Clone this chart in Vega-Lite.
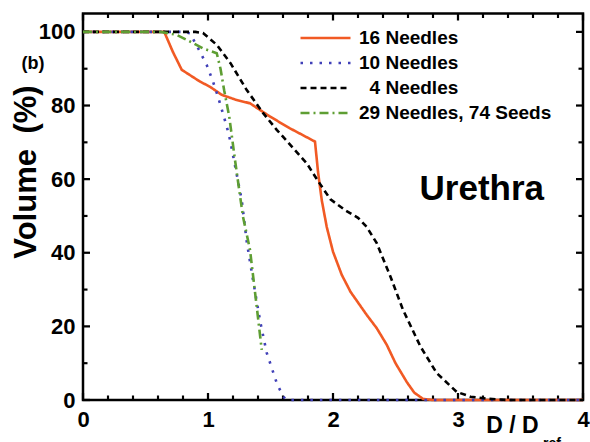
{
  "$schema": "https://vega.github.io/schema/vega-lite/v6.json",
  "width": 500,
  "height": 386.5,
  "autosize": {"type": "none"},
  "padding": {"left": 83, "top": 13.5, "right": 7, "bottom": 42},
  "background": "white",
  "config": {
    "font": "Liberation Sans",
    "view": {"stroke": "black", "strokeWidth": 2.5},
    "axis": {
      "domain": false,
      "grid": false,
      "ticks": false,
      "labelColor": "black",
      "labelFont": "Liberation Sans",
      "labelFontSize": 22,
      "labelFontWeight": "bold",
      "labelFlush": false,
      "labelOverlap": false,
      "titleColor": "black",
      "titleFont": "Liberation Sans",
      "titleFontWeight": "bold"
    }
  },
  "datasets": {
    "xmajor": [{"t": 0}, {"t": 1}, {"t": 2}, {"t": 3}, {"t": 4}],
    "xminor": [{"t": 0.2}, {"t": 0.4}, {"t": 0.6}, {"t": 0.8}, {"t": 1.2}, {"t": 1.4}, {"t": 1.6}, {"t": 1.8}, {"t": 2.2}, {"t": 2.4}, {"t": 2.6}, {"t": 2.8}, {"t": 3.2}, {"t": 3.4}, {"t": 3.6}, {"t": 3.8}],
    "ymajor": [{"t": 0}, {"t": 20}, {"t": 40}, {"t": 60}, {"t": 80}, {"t": 100}],
    "yminor": [{"t": 10}, {"t": 30}, {"t": 50}, {"t": 70}, {"t": 90}],
    "curves": [
      {"series": "16 Needles", "d": 0, "v": 100},
      {"series": "16 Needles", "d": 0.65, "v": 100},
      {"series": "16 Needles", "d": 0.72, "v": 94.5},
      {"series": "16 Needles", "d": 0.79, "v": 89.7},
      {"series": "16 Needles", "d": 0.936, "v": 86.5},
      {"series": "16 Needles", "d": 1.016, "v": 85.1},
      {"series": "16 Needles", "d": 1.11, "v": 82.9},
      {"series": "16 Needles", "d": 1.22, "v": 81.6},
      {"series": "16 Needles", "d": 1.336, "v": 80.6},
      {"series": "16 Needles", "d": 1.496, "v": 77},
      {"series": "16 Needles", "d": 1.656, "v": 73.8},
      {"series": "16 Needles", "d": 1.856, "v": 70.2},
      {"series": "16 Needles", "d": 1.88, "v": 62},
      {"series": "16 Needles", "d": 1.91, "v": 54.3},
      {"series": "16 Needles", "d": 1.95, "v": 47},
      {"series": "16 Needles", "d": 2.0, "v": 40.3},
      {"series": "16 Needles", "d": 2.07, "v": 34},
      {"series": "16 Needles", "d": 2.14, "v": 29.4},
      {"series": "16 Needles", "d": 2.27, "v": 23.1},
      {"series": "16 Needles", "d": 2.35, "v": 19.5},
      {"series": "16 Needles", "d": 2.43, "v": 15},
      {"series": "16 Needles", "d": 2.5, "v": 10},
      {"series": "16 Needles", "d": 2.59, "v": 4.9},
      {"series": "16 Needles", "d": 2.65, "v": 2},
      {"series": "16 Needles", "d": 2.72, "v": 0.3},
      {"series": "16 Needles", "d": 2.8, "v": 0},
      {"series": "16 Needles", "d": 4.0, "v": 0},
      {"series": "10 Needles", "d": 0, "v": 100},
      {"series": "10 Needles", "d": 0.8, "v": 100},
      {"series": "10 Needles", "d": 0.856, "v": 99.6},
      {"series": "10 Needles", "d": 0.936, "v": 94.6},
      {"series": "10 Needles", "d": 0.99, "v": 91},
      {"series": "10 Needles", "d": 1.04, "v": 86.5},
      {"series": "10 Needles", "d": 1.08, "v": 82.4},
      {"series": "10 Needles", "d": 1.15, "v": 74.3},
      {"series": "10 Needles", "d": 1.176, "v": 70.7},
      {"series": "10 Needles", "d": 1.22, "v": 63},
      {"series": "10 Needles", "d": 1.27, "v": 54.3},
      {"series": "10 Needles", "d": 1.31, "v": 43},
      {"series": "10 Needles", "d": 1.36, "v": 32.6},
      {"series": "10 Needles", "d": 1.42, "v": 20.9},
      {"series": "10 Needles", "d": 1.47, "v": 12.8},
      {"series": "10 Needles", "d": 1.55, "v": 4.6},
      {"series": "10 Needles", "d": 1.6, "v": 1},
      {"series": "10 Needles", "d": 1.63, "v": 0},
      {"series": "10 Needles", "d": 4.0, "v": 0},
      {"series": "4 Needles", "d": 0, "v": 100},
      {"series": "4 Needles", "d": 0.9, "v": 100},
      {"series": "4 Needles", "d": 0.96, "v": 99.7},
      {"series": "4 Needles", "d": 1.07, "v": 96.5},
      {"series": "4 Needles", "d": 1.18, "v": 91.5},
      {"series": "4 Needles", "d": 1.31, "v": 84.2},
      {"series": "4 Needles", "d": 1.44, "v": 78},
      {"series": "4 Needles", "d": 1.55, "v": 73.4},
      {"series": "4 Needles", "d": 1.79, "v": 64.3},
      {"series": "4 Needles", "d": 1.88, "v": 59.5},
      {"series": "4 Needles", "d": 1.98, "v": 54.5},
      {"series": "4 Needles", "d": 2.1, "v": 51.5},
      {"series": "4 Needles", "d": 2.2, "v": 49.5},
      {"series": "4 Needles", "d": 2.27, "v": 47},
      {"series": "4 Needles", "d": 2.35, "v": 42.6},
      {"series": "4 Needles", "d": 2.46, "v": 33.5},
      {"series": "4 Needles", "d": 2.56, "v": 24.5},
      {"series": "4 Needles", "d": 2.7, "v": 14.5},
      {"series": "4 Needles", "d": 2.83, "v": 7.3},
      {"series": "4 Needles", "d": 2.99, "v": 2.2},
      {"series": "4 Needles", "d": 3.1, "v": 0.9},
      {"series": "4 Needles", "d": 3.25, "v": 0.3},
      {"series": "4 Needles", "d": 3.4, "v": 0},
      {"series": "4 Needles", "d": 4.0, "v": 0},
      {"series": "29 Needles, 74 Seeds", "d": 0, "v": 100},
      {"series": "29 Needles, 74 Seeds", "d": 0.62, "v": 100},
      {"series": "29 Needles, 74 Seeds", "d": 0.75, "v": 99.2},
      {"series": "29 Needles, 74 Seeds", "d": 0.856, "v": 97.4},
      {"series": "29 Needles, 74 Seeds", "d": 0.96, "v": 95.5},
      {"series": "29 Needles, 74 Seeds", "d": 1.07, "v": 94.2},
      {"series": "29 Needles, 74 Seeds", "d": 1.1, "v": 90},
      {"series": "29 Needles, 74 Seeds", "d": 1.13, "v": 84},
      {"series": "29 Needles, 74 Seeds", "d": 1.17, "v": 77},
      {"series": "29 Needles, 74 Seeds", "d": 1.216, "v": 65.2},
      {"series": "29 Needles, 74 Seeds", "d": 1.25, "v": 57},
      {"series": "29 Needles, 74 Seeds", "d": 1.28, "v": 49.8},
      {"series": "29 Needles, 74 Seeds", "d": 1.336, "v": 40.8},
      {"series": "29 Needles, 74 Seeds", "d": 1.39, "v": 25.3},
      {"series": "29 Needles, 74 Seeds", "d": 1.43, "v": 13.6}
    ]
  },
  "layer": [
    {
      "data": {"name": "xmajor"},
      "mark": {"type": "point", "shape": "M-0.16,0H0.16V-1H-0.16Z", "size": 196, "filled": true, "color": "black", "opacity": 1, "strokeWidth": 0},
      "encoding": {
        "x": {"field": "t", "type": "quantitative", "scale": {"domain": [0, 4], "nice": false, "zero": false}, "axis": null},
        "y": {"datum": 0, "type": "quantitative", "scale": {"domain": [0, 105], "nice": false, "zero": false}, "axis": null}
      }
    },
    {
      "data": {"name": "xmajor"},
      "mark": {"type": "point", "shape": "M-0.16,0H0.16V1H-0.16Z", "size": 196, "filled": true, "color": "black", "opacity": 1, "strokeWidth": 0},
      "encoding": {
        "x": {"field": "t", "type": "quantitative", "scale": {"domain": [0, 4], "nice": false, "zero": false}, "axis": null},
        "y": {"datum": 105, "type": "quantitative", "scale": {"domain": [0, 105], "nice": false, "zero": false}, "axis": null}
      }
    },
    {
      "data": {"name": "xminor"},
      "mark": {"type": "point", "shape": "M-0.24,0H0.24V-1H-0.24Z", "size": 81, "filled": true, "color": "black", "opacity": 1, "strokeWidth": 0},
      "encoding": {
        "x": {"field": "t", "type": "quantitative", "scale": {"domain": [0, 4], "nice": false, "zero": false}, "axis": null},
        "y": {"datum": 0, "type": "quantitative", "scale": {"domain": [0, 105], "nice": false, "zero": false}, "axis": null}
      }
    },
    {
      "data": {"name": "xminor"},
      "mark": {"type": "point", "shape": "M-0.24,0H0.24V1H-0.24Z", "size": 81, "filled": true, "color": "black", "opacity": 1, "strokeWidth": 0},
      "encoding": {
        "x": {"field": "t", "type": "quantitative", "scale": {"domain": [0, 4], "nice": false, "zero": false}, "axis": null},
        "y": {"datum": 105, "type": "quantitative", "scale": {"domain": [0, 105], "nice": false, "zero": false}, "axis": null}
      }
    },
    {
      "data": {"name": "ymajor"},
      "mark": {"type": "point", "shape": "M0,-0.16V0.16H1V-0.16Z", "size": 196, "filled": true, "color": "black", "opacity": 1, "strokeWidth": 0},
      "encoding": {
        "y": {"field": "t", "type": "quantitative", "scale": {"domain": [0, 105], "nice": false, "zero": false}, "axis": null},
        "x": {"datum": 0, "type": "quantitative", "scale": {"domain": [0, 4], "nice": false, "zero": false}, "axis": null}
      }
    },
    {
      "data": {"name": "ymajor"},
      "mark": {"type": "point", "shape": "M0,-0.16V0.16H-1V-0.16Z", "size": 196, "filled": true, "color": "black", "opacity": 1, "strokeWidth": 0},
      "encoding": {
        "y": {"field": "t", "type": "quantitative", "scale": {"domain": [0, 105], "nice": false, "zero": false}, "axis": null},
        "x": {"datum": 4, "type": "quantitative", "scale": {"domain": [0, 4], "nice": false, "zero": false}, "axis": null}
      }
    },
    {
      "data": {"name": "yminor"},
      "mark": {"type": "point", "shape": "M0,-0.24V0.24H1V-0.24Z", "size": 81, "filled": true, "color": "black", "opacity": 1, "strokeWidth": 0},
      "encoding": {
        "y": {"field": "t", "type": "quantitative", "scale": {"domain": [0, 105], "nice": false, "zero": false}, "axis": null},
        "x": {"datum": 0, "type": "quantitative", "scale": {"domain": [0, 4], "nice": false, "zero": false}, "axis": null}
      }
    },
    {
      "data": {"name": "yminor"},
      "mark": {"type": "point", "shape": "M0,-0.24V0.24H-1V-0.24Z", "size": 81, "filled": true, "color": "black", "opacity": 1, "strokeWidth": 0},
      "encoding": {
        "y": {"field": "t", "type": "quantitative", "scale": {"domain": [0, 105], "nice": false, "zero": false}, "axis": null},
        "x": {"datum": 4, "type": "quantitative", "scale": {"domain": [0, 4], "nice": false, "zero": false}, "axis": null}
      }
    },
    {
      "data": {"name": "curves"},
      "mark": {"type": "line", "strokeWidth": 2.6},
      "encoding": {
        "x": {
          "field": "d", "type": "quantitative",
          "scale": {"domain": [0, 4], "nice": false, "zero": false},
          "axis": {
            "orient": "bottom",
            "values": [0, 1, 2, 3, 4],
            "format": "d",
            "ticks": false,
            "labelFlush": false,
            "labelPadding": 9,
            "title": "D / D",
            "titleFontSize": 23,
            "titleX": 429,
            "titleY": 32,
            "titleAlign": "center",
            "titleBaseline": "alphabetic"
          }
        },
        "y": {
          "field": "v", "type": "quantitative",
          "scale": {"domain": [0, 105], "nice": false, "zero": false},
          "axis": {
            "orient": "left",
            "values": [0, 20, 40, 60, 80, 100],
            "format": "d",
            "ticks": false,
            "labelFlush": false,
            "labelPadding": 8,
            "title": "Volume\u2002(%)",
            "titleFontSize": 31,
            "titleAngle": 270,
            "titleX": -57,
            "titleY": 158,
            "titleAlign": "center",
            "titleBaseline": "middle"
          }
        },
        "color": {
          "field": "series", "type": "nominal",
          "scale": {
            "domain": ["16 Needles", "10 Needles", "4 Needles", "29 Needles, 74 Seeds"],
            "range": ["#f15a24", "#4040b8", "#000000", "#5e9e33"]
          },
          "legend": {
            "title": null,
            "orient": "none",
            "legendX": 216,
            "legendY": 12,
            "padding": 0,
            "symbolType": "stroke",
            "symbolSize": 2500,
            "symbolStrokeWidth": 2.6,
            "clipHeight": 25,
            "rowPadding": 0,
            "labelOffset": 7,
            "labelFont": "Liberation Sans",
            "labelFontSize": 19,
            "labelFontWeight": "bold",
            "labelColor": "black",
            "labelLimit": 400,
            "labelExpr": "datum.label === '4 Needles' ? '\\u200b\\u2007' + datum.label : datum.label"
          }
        },
        "strokeDash": {
          "field": "series", "type": "nominal",
          "scale": {
            "domain": ["16 Needles", "10 Needles", "4 Needles", "29 Needles, 74 Seeds"],
            "range": [[1, 0], [2.5, 7], [6, 4], [9, 4, 2, 4]]
          },
          "legend": {
            "title": null,
            "orient": "none",
            "legendX": 216,
            "legendY": 12,
            "padding": 0,
            "symbolType": "stroke",
            "symbolSize": 2500,
            "symbolStrokeWidth": 2.6,
            "clipHeight": 25,
            "rowPadding": 0,
            "labelOffset": 7,
            "labelFont": "Liberation Sans",
            "labelFontSize": 19,
            "labelFontWeight": "bold",
            "labelColor": "black",
            "labelLimit": 400,
            "labelExpr": "datum.label === '4 Needles' ? '\\u200b\\u2007' + datum.label : datum.label"
          }
        }
      }
    },
    {
      "data": {"values": [{}]},
      "mark": {"type": "text", "text": "Urethra", "fontSize": 35, "fontWeight": "bold", "font": "Liberation Sans", "align": "center", "baseline": "alphabetic", "color": "black"},
      "encoding": {
        "x": {"datum": 3.19, "type": "quantitative", "scale": {"domain": [0, 4], "nice": false, "zero": false}, "axis": null},
        "y": {"datum": 54.3, "type": "quantitative", "scale": {"domain": [0, 105], "nice": false, "zero": false}, "axis": null}
      }
    },
    {
      "data": {"values": [{}]},
      "mark": {"type": "text", "text": "(b)", "fontSize": 18, "fontWeight": "bold", "font": "Liberation Sans", "align": "center", "baseline": "middle", "color": "black"},
      "encoding": {
        "x": {"datum": -0.4, "type": "quantitative", "scale": {"domain": [0, 4], "nice": false, "zero": false}, "axis": null},
        "y": {"datum": 91.2, "type": "quantitative", "scale": {"domain": [0, 105], "nice": false, "zero": false}, "axis": null}
      }
    },
    {
      "data": {"values": [{}]},
      "mark": {"type": "text", "text": "ref", "fontSize": 14, "fontWeight": "bold", "font": "Liberation Sans", "align": "left", "baseline": "top", "color": "black"},
      "encoding": {
        "x": {"datum": 3.68, "type": "quantitative", "scale": {"domain": [0, 4], "nice": false, "zero": false}, "axis": null},
        "y": {"datum": -10, "type": "quantitative", "scale": {"domain": [0, 105], "nice": false, "zero": false}, "axis": null}
      }
    }
  ],
  "resolve": {"axis": {"x": "independent", "y": "independent"}}
}
